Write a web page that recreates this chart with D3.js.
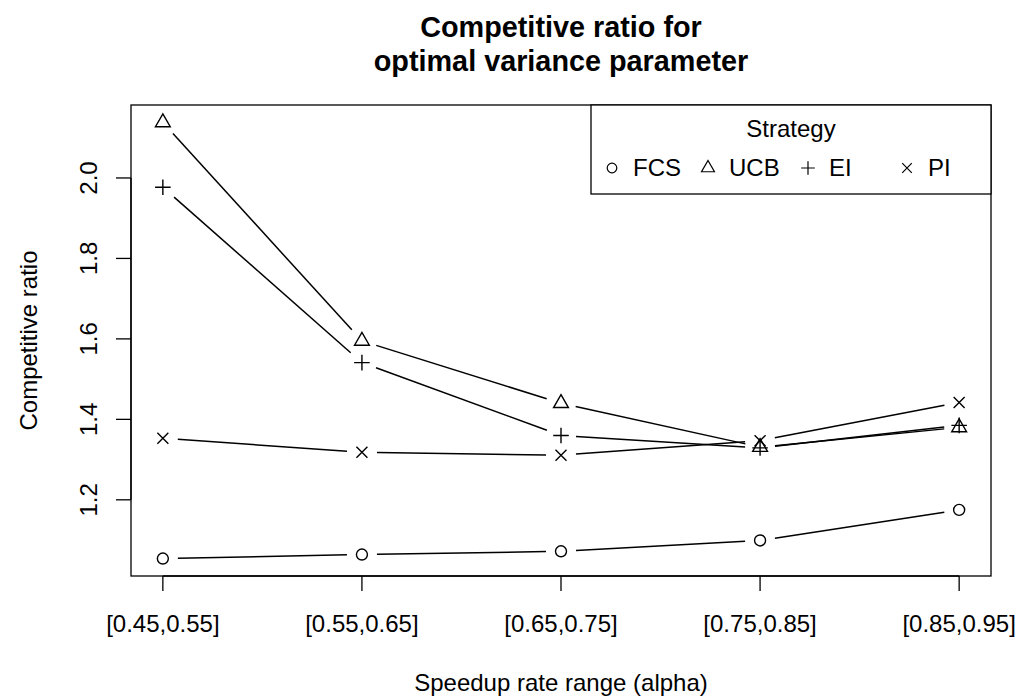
<!DOCTYPE html>
<html>
<head>
<meta charset="utf-8">
<script src="https://cdn.jsdelivr.net/npm/d3@7"></script>
<style>
  body { margin: 0; background: #fff; }
  text { font-family: "Liberation Sans", Arial, sans-serif; fill: #000; }
</style>
</head>
<body>
<div id="chart"></div>
<script>
var categories = ['[0.45,0.55]', '[0.55,0.65]', '[0.65,0.75]', '[0.75,0.85]', '[0.85,0.95]'];
var fcs = [1.054, 1.064, 1.072, 1.099, 1.175];
var ucb = [2.138, 1.595, 1.440, 1.331, 1.380];
var ei  = [1.977, 1.541, 1.360, 1.329, 1.385];
var pi  = [1.353, 1.318, 1.311, 1.347, 1.442];
var yTicks = [1.2, 1.4, 1.6, 1.8, 2.0];
var strategies = ['FCS', 'UCB', 'EI', 'PI'];
var shapes = ['circle', 'triangle', 'plus', 'cross'];

var W = 1032, H = 697;
var pLeft = 131, pRight = 991, pTop = 105, pBottom = 576;

var svg = d3.select('#chart')
            .append('svg')
            .attr('width', W)
            .attr('height', H);

// R style 4% padding on both axes
var x = d3.scaleLinear().domain([0.84, 5.16]).range([pLeft, pRight]);
var allVals = fcs.concat(ucb, ei, pi);
var ymin = d3.min(allVals), ymax = d3.max(allVals), pad = (ymax - ymin) * 0.04;
var y = d3.scaleLinear().domain([ymin - pad, ymax + pad]).range([pBottom, pTop]);

// plot box
svg.append('rect')
   .attr('x', pLeft).attr('y', pTop)
   .attr('width', pRight - pLeft).attr('height', pBottom - pTop)
   .style('fill', 'none').style('stroke', 'black').style('stroke-width', 1.3);

// x axis
var xAxis = svg.append('g').attr('transform', 'translate(0,' + pBottom + ')');
xAxis.selectAll('line.tick')
     .data(categories)
     .enter()
     .append('line')
     .attr('class', 'tick')
     .attr('x1', function(d, i){ return x(i + 1); })
     .attr('x2', function(d, i){ return x(i + 1); })
     .attr('y1', 0).attr('y2', 15)
     .style('stroke', 'black').style('stroke-width', 1.3);
xAxis.append('line')
     .attr('x1', x(1)).attr('x2', x(5)).attr('y1', 0).attr('y2', 0)
     .style('stroke', 'black').style('stroke-width', 1.3);
xAxis.selectAll('text')
     .data(categories)
     .enter()
     .append('text')
     .attr('x', function(d, i){ return x(i + 1); })
     .attr('y', 56)
     .attr('text-anchor', 'middle')
     .style('font-size', '24px')
     .text(function(d){ return d; });

// y axis
var yAxis = svg.append('g').attr('transform', 'translate(' + pLeft + ',0)');
yAxis.append('line')
     .attr('x1', 0).attr('x2', 0)
     .attr('y1', y(yTicks[0])).attr('y2', y(yTicks[yTicks.length - 1]))
     .style('stroke', 'black').style('stroke-width', 1.3);
yAxis.selectAll('line.tick')
     .data(yTicks)
     .enter()
     .append('line')
     .attr('class', 'tick')
     .attr('x1', -15).attr('x2', 0)
     .attr('y1', function(d){ return y(d); })
     .attr('y2', function(d){ return y(d); })
     .style('stroke', 'black').style('stroke-width', 1.3);
yAxis.selectAll('text')
     .data(yTicks)
     .enter()
     .append('text')
     .attr('transform', function(d){ return 'translate(-34,' + y(d) + ') rotate(-90)'; })
     .attr('text-anchor', 'middle')
     .style('font-size', '24px')
     .text(function(d){ return d.toFixed(1); });

// titles
svg.append('text')
   .attr('x', (pLeft + pRight) / 2).attr('y', 37)
   .attr('text-anchor', 'middle')
   .style('font-size', '28.8px').style('font-weight', 'bold')
   .text('Competitive ratio for');
svg.append('text')
   .attr('x', (pLeft + pRight) / 2).attr('y', 71)
   .attr('text-anchor', 'middle')
   .style('font-size', '28.8px').style('font-weight', 'bold')
   .text('optimal variance parameter');
svg.append('text')
   .attr('x', (pLeft + pRight) / 2).attr('y', 691)
   .attr('text-anchor', 'middle')
   .style('font-size', '24px')
   .text('Speedup rate range (alpha)');
svg.append('text')
   .attr('transform', 'translate(37,' + ((pTop + pBottom) / 2) + ') rotate(-90)')
   .attr('text-anchor', 'middle')
   .style('font-size', '24px')
   .text('Competitive ratio');

// symbols, R pch 1..4 proportions
function symbolPath(shape, cx, cy, r) {
   if (shape === 'circle') {
      return 'M' + (cx + r) + ',' + cy + ' A' + r + ',' + r + ' 0 1,1 ' + (cx - r) + ',' + cy +
             ' A' + r + ',' + r + ' 0 1,1 ' + (cx + r) + ',' + cy;
   } else if (shape === 'triangle') {
      var tr = 1.555 * r, hx = tr * Math.sqrt(3) / 2, hy = tr / 2;
      return 'M' + cx + ',' + (cy - tr) + ' L' + (cx + hx) + ',' + (cy + hy) +
             ' L' + (cx - hx) + ',' + (cy + hy) + 'Z';
   } else if (shape === 'plus') {
      var p = Math.SQRT2 * r;
      return 'M' + (cx - p) + ',' + cy + ' L' + (cx + p) + ',' + cy +
             ' M' + cx + ',' + (cy - p) + ' L' + cx + ',' + (cy + p);
   } else {
      return 'M' + (cx - r) + ',' + (cy - r) + ' L' + (cx + r) + ',' + (cy + r) +
             ' M' + (cx - r) + ',' + (cy + r) + ' L' + (cx + r) + ',' + (cy - r);
   }
}

var series = [fcs, ucb, ei, pi];
var gap = 15;
series.forEach(function(vals, s) {
   var pts = vals.map(function(v, i){ return [x(i + 1), y(v)]; });
   var g = svg.append('g');
   // type = "b": segments with gaps around the points
   g.selectAll('line')
    .data(d3.pairs(pts))
    .enter()
    .append('line')
    .each(function(d) {
       var dx = d[1][0] - d[0][0], dy = d[1][1] - d[0][1];
       var len = Math.sqrt(dx * dx + dy * dy);
       var ux = dx / len, uy = dy / len;
       d3.select(this)
         .attr('x1', d[0][0] + ux * gap).attr('y1', d[0][1] + uy * gap)
         .attr('x2', d[1][0] - ux * gap).attr('y2', d[1][1] - uy * gap);
    })
    .style('stroke', 'black').style('stroke-width', 1.5);
   g.selectAll('path')
    .data(pts)
    .enter()
    .append('path')
    .attr('d', function(d){ return symbolPath(shapes[s], d[0], d[1], 5.5); })
    .style('fill', 'none').style('stroke', 'black').style('stroke-width', 1.4);
});

// legend
var legX = 591, legY = 105, legW = 400, legH = 89;
var legend = svg.append('g');
legend.append('rect')
      .attr('x', legX).attr('y', legY).attr('width', legW).attr('height', legH)
      .style('fill', 'white').style('stroke', 'black').style('stroke-width', 1.3);
legend.append('text')
      .attr('x', legX + legW / 2).attr('y', 137)
      .attr('text-anchor', 'middle')
      .style('font-size', '24px')
      .text('Strategy');
var legPos = [612, 708, 808, 907];
legend.selectAll('path')
      .data(strategies)
      .enter()
      .append('path')
      .attr('d', function(d, i){ return symbolPath(shapes[i], legPos[i], 168, 4.8); })
      .style('fill', 'none').style('stroke', 'black').style('stroke-width', 1.2);
legend.selectAll('text.lab')
      .data(strategies)
      .enter()
      .append('text')
      .attr('class', 'lab')
      .attr('x', function(d, i){ return legPos[i] + 21; })
      .attr('y', 176)
      .style('font-size', '24px')
      .text(function(d){ return d; });
</script>
</body>
</html>
